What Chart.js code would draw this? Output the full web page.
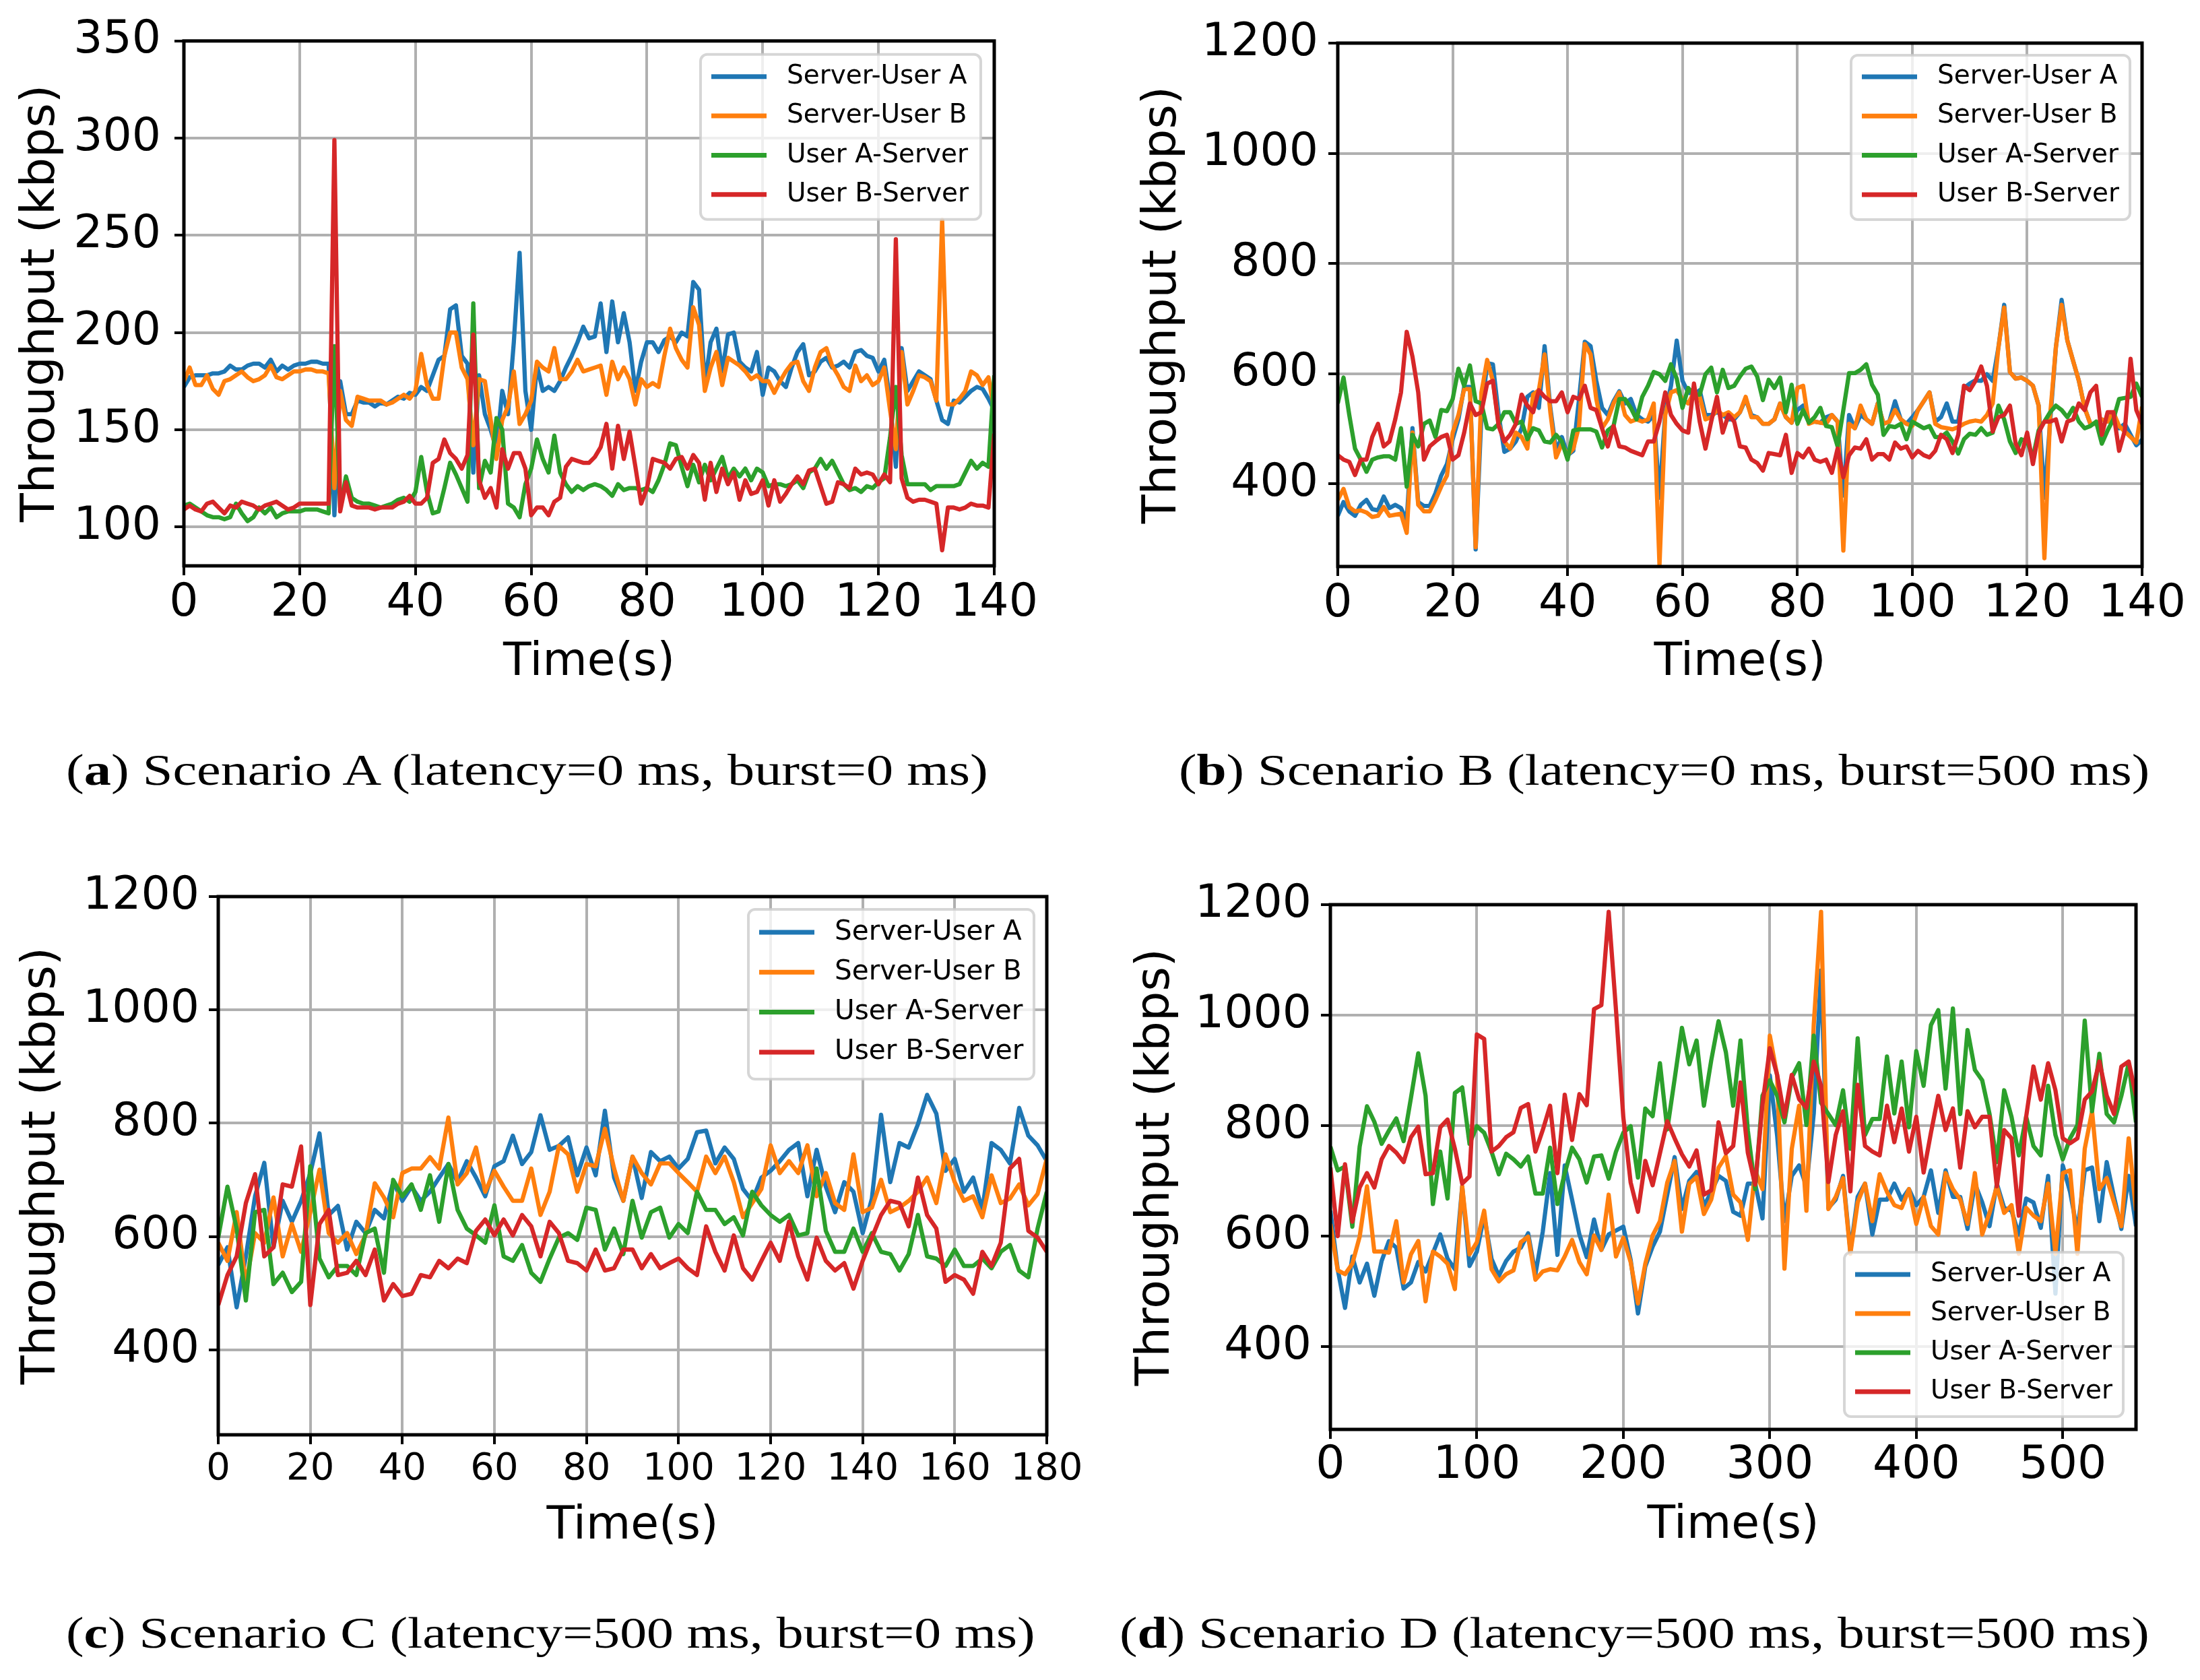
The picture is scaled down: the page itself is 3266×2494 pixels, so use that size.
<!DOCTYPE html>
<html>
<head>
<meta charset="utf-8">
<script src="https://cdn.jsdelivr.net/npm/chart.js@4.4.1/dist/chart.umd.min.js"></script>
<style>
html, body { margin: 0; padding: 0; background: #fff; }
body { width: 3266px; height: 2494px; position: relative; overflow: hidden; }
canvas { position: absolute; }
.cap { position: absolute; white-space: nowrap; font-family: "Liberation Serif", serif; font-size: 66px; line-height: 66px; color: #000; transform-origin: 0 0; }
</style>
</head>
<body>
<canvas id="chartA" width="1633" height="1075" style="left:0px;top:0px;width:1633px;height:1075px"></canvas>
<canvas id="chartB" width="1633" height="1075" style="left:1633px;top:0px;width:1633px;height:1075px"></canvas>
<canvas id="chartC" width="1633" height="1130" style="left:0px;top:1250px;width:1633px;height:1130px"></canvas>
<canvas id="chartD" width="1633" height="1130" style="left:1633px;top:1250px;width:1633px;height:1130px"></canvas>
<div class="cap" data-x="98" data-w="1369" style="top:1110px">(<b>a</b>) Scenario A (latency=0 ms, burst=0 ms)</div>
<div class="cap" data-x="1750" data-w="1441" style="top:1110px">(<b>b</b>) Scenario B (latency=0 ms, burst=500 ms)</div>
<div class="cap" data-x="98" data-w="1439" style="top:2391px">(<b>c</b>) Scenario C (latency=500 ms, burst=0 ms)</div>
<div class="cap" data-x="1662" data-w="1529" style="top:2391px">(<b>d</b>) Scenario D (latency=500 ms, burst=500 ms)</div>
<script>
"use strict";

var seriesNames = ['Server-User A', 'Server-User B', 'User A-Server', 'User B-Server'];
var seriesColors = ['#1f77b4', '#ff7f0e', '#2ca02c', '#d62728'];

// Scenario A: one sample per second, 0..140 s
var stepA = 1;
var aServerUserA = [172,177,178,178,178,179,179,180,183,181, 181,183,184,184,182,186,180,183,181,183,
    184,184,185,185,184,184,106,175,158,158, 165,164,164,162,164,163,165,167,166,169,
    168,172,170,178,186,188,212,214,188,184, 128,178,158,150,140,170,158,195,241,170,
    150,183,170,172,170,175,182,188,195,203, 197,198,215,190,216,195,210,195,170,185,
    195,195,190,196,198,195,200,198,226,222, 173,195,202,180,199,200,185,182,180,190,
    168,182,180,175,172,182,190,194,178,180, 185,187,182,183,185,182,190,191,188,187,
    180,186,165,131,192,170,175,180,178,176, 165,155,153,165,164,167,170,172,171,166, 160];
var aServerUserB = [175,182,173,173,178,171,168,175,176,178, 180,177,175,176,178,183,177,176,178,180,
    180,181,181,180,180,179,120,170,155,152, 167,166,165,165,165,163,164,166,168,166,
    170,189,173,166,166,188,200,200,182,176, 142,176,175,155,135,155,162,180,153,158,
    165,185,182,180,192,176,176,180,186,180, 181,182,183,168,185,176,182,176,163,176,
    172,174,172,188,202,192,186,182,213,204, 170,182,190,173,187,185,183,180,176,178,
    175,175,169,175,180,184,185,175,170,182, 190,192,183,178,172,170,183,175,178,173,
    175,182,160,140,190,163,170,178,177,175, 165,258,163,163,166,170,180,178,173,177, 160];
var aUserAServer = [111,112,110,108,106,105,105,104,105,112, 107,103,105,110,107,110,105,107,108,108,
    108,109,109,109,108,107,193,110,126,115, 113,112,112,111,110,111,112,114,115,113,
    118,136,118,107,108,120,133,127,120,113, 215,120,134,128,156,150,112,110,105,122,
    130,145,135,128,147,128,122,118,121,119, 121,122,121,119,116,122,119,120,120,119,
    120,118,124,132,143,142,131,121,132,123, 132,124,130,136,125,130,126,130,124,130,
    128,121,122,122,121,122,124,120,128,130, 135,130,134,128,122,119,120,118,121,120,
    123,125,146,172,137,122,122,122,122,119, 121,121,121,121,122,128,134,130,133,131, 178];
var aUserBServer = [109,111,109,108,112,113,110,107,111,110, 113,112,111,109,111,112,113,111,109,110,
    112,112,112,112,112,112,299,108,123,111, 110,110,110,109,110,110,110,112,113,116,
    112,112,115,133,135,145,138,135,130,137, 199,124,115,120,110,140,130,138,138,130,
    106,110,110,106,113,115,131,135,134,133, 133,136,141,153,130,152,135,149,131,112,
    120,135,134,133,130,135,136,130,137,133, 114,133,118,130,122,128,114,124,117,118,
    124,111,124,113,117,122,126,122,129,130, 121,112,113,123,122,120,130,127,128,127,
    122,127,123,248,125,115,113,114,114,113, 112,88,110,110,109,110,112,111,111,110, 148];
var xTicksA = [0, 20, 40, 60, 80, 100, 120, 140];
var yTicksA = [100, 150, 200, 250, 300, 350];

// Scenario B: one sample per second, 0..140 s
var stepB = 1;
var bServerUserA = [342,367,350,342,362,371,354,352,377,356, 362,356,334,501,367,360,360,383,415,436,
    481,517,576,576,281,525,619,617,525,458, 464,477,501,558,566,538,650,538,460,485,
    452,460,554,658,650,587,538,525,550,568, 546,554,525,517,513,525,375,530,578,660,
    587,566,562,570,525,525,530,525,517,517, 530,554,525,521,509,509,517,546,521,511,
    534,542,513,513,511,521,525,513,379,525, 501,525,517,509,546,509,513,550,517,509,
    521,534,550,566,513,521,546,513,513,574, 582,588,587,599,587,648,725,603,591,593,
    587,578,542,375,513,648,734,660,623,587, 538,509,509,517,513,530,501,509,489,470, 480];
var bServerUserB = [371,391,358,350,352,348,340,342,358,342, 344,346,311,493,362,350,350,371,395,415,
    493,525,572,572,285,566,625,587,509,477, 464,493,485,464,562,570,635,530,448,473,
    452,464,505,654,635,554,501,517,546,566, 525,513,517,513,517,546,252,525,566,570,
    554,546,566,558,517,521,534,525,530,521, 530,558,521,521,509,509,517,546,521,511,
    574,578,509,513,511,509,525,513,279,509, 501,542,517,509,546,509,513,534,517,509,
    505,534,550,566,509,503,501,499,503,509, 513,515,513,525,546,648,720,603,591,593,
    587,578,542,265,525,648,725,660,623,587, 538,509,509,517,513,530,505,495,485,475, 540];
var bUserAServer = [546,593,525,464,444,422,444,448,450,450, 444,501,395,489,468,509,515,485,534,532,
    554,609,578,615,550,546,501,499,509,530, 530,509,513,481,501,497,477,475,489,477,
    444,497,499,499,499,495,466,497,505,554, 554,538,517,558,578,603,599,587,617,591,
    538,574,562,562,599,611,566,607,574,578, 595,609,613,595,552,589,574,593,530,580,
    509,534,511,521,538,505,503,468,534,601, 601,607,617,580,562,489,505,503,509,481,
    513,507,501,505,485,485,493,477,455,481, 491,489,501,489,493,542,517,477,456,481,
    477,448,497,513,530,542,534,521,538,513, 501,505,513,473,497,517,554,556,558,582, 558];
var bUserBServer = [452,444,440,416,444,444,485,509,468,477, 517,566,676,631,566,444,468,477,485,489,
    444,452,493,546,525,530,582,587,505,477, 489,509,562,542,530,570,558,550,550,566,
    530,558,554,578,538,534,501,468,505,468, 466,460,456,452,477,477,513,566,525,509,
    497,493,582,513,464,513,558,493,525,513, 468,466,444,438,424,456,454,452,489,420,
    456,448,464,444,440,444,420,464,412,452, 466,464,481,444,454,454,444,475,464,468,
    448,460,452,448,460,489,481,456,489,578, 570,587,613,578,495,521,525,542,473,452,
    493,436,493,513,513,517,477,513,517,546, 534,566,578,489,530,530,460,497,627,534, 509];
var xTicksB = [0, 20, 40, 60, 80, 100, 120, 140];
var yTicksB = [400, 600, 800, 1000, 1200];

// Scenario C: read every 2 s, 0..180 s
var stepC = 2;
var cServerUserA = [550,581,475,565,671,730,581,663,626,663, 712,782,638,654,577,626,606,647,632,696,
    663,688,663,679,704,728,696,733,704,671, 724,733,778,728,749,814,753,760,775,708,
    757,708,822,704,663, 741,668,749,733,741,720,737,784,787,729,
    757,737,684,663,704,716,733,753,765,671, 753,688,643,696,679,606,667,815,696,765,
    757,798,850,817,716,737,679,704,647,765, 753,729,827,778,761,733];
var cServerUserB = [589,557,643,516,606,589,669,565,622,573, 643,718,606,589,606,569,602,694,669,634,
    712,720,720,740,720,810,692,712,757,679, 716,688,663,663,720,638,679,760,745,679,
    728,724,790,720,663, 741,712,692,729,729,712,696,679,741,712,
    741,696,634,659,684,761,712,733,712,761, 671,712,659,647,745,643,651,700,643,651,
    663,679,704,659,745,696,663,671,634,708, 659,667,692,655,675,737];
var cUserAServer = [598,688,614,487,643,647,516,536,502,520, 724,561,528,548,548,532,606,614,536,700,
    671,692,647,708,626,728,647,614,602,589, 655,565,557,585,536,520,561,598,606,594,
    651,647,577,614,569, 663,598,643,651,598,622,606,679,647,647,
    622,634,602,679,655,638,626,638,602,606, 720,610,573,573,614,573,606,573,569,540,
    569,638,565,561,548,577,548,548,561,544, 573,585,540,528,614,679];
var cUserBServer = [479,532,565,659,710,565,581,692,688,759, 479,622,647,532,536,557,532,577,487,516,
    495,499,532,528,557,544,561,553,610,630, 602,630,602,638,618,565,626,606,557,553,
    540,577,540,544,577, 577,544,569,544,553,561,544,532,618,573,
    540,602,544,524,557,589,557,626,565,524, 598,557,540,553,508,557,598,638,663,659,
    618,704,638,614,520,532,524,499,573,548, 589,720,737,610,598,573];
var xTicksC = [0, 20, 40, 60, 80, 100, 120, 140, 160, 180];
var yTicksC = [400, 600, 800, 1000, 1200];

// Scenario D: one sample every 5 s, 0..550 s
var stepD = 5;
var dServerUserA = [646,540,470,563,516,550,492,555,591,579, 505,516,553,536,569,603,559,540,690,546,
    572,637,559,528,555,572,579,605,531,608, 714,566,728,666,603,562,630,575,603,610,
    617,557,460,545,581,608,675,743,649,700, 716,654,680,709,700,644,637,695,695,632,
    891,782,627,709,728,690,822,1081,651,666, 709,573,671,695,603,666,666,695,666,685,
    656,671,719,642,719,671,671,613,695,661, 618,695,651,646,603,668,661,615,709,496,
    728,680,608,719,724,627,734,671,613,709, 618];
var dServerUserB = [622,538,531,550,599,690,572,572,570,627, 516,567,591,482,572,563,550,504,690,567,
    589,646,540,518,531,538,589,599,521,536, 540,538,563,593,553,531,601,575,675,563,
    597,553,478,550,601,627,697,736,608,695, 707,640,666,724,745,675,661,593,719,685,
    963,891,541,758,836,646,983,1187,649,671, 705,568,661,695,627,712,680,656,651,685,
    622,671,618,603,714,685,666,622,714,603, 642,690,642,656,568,651,637,627,695,568,
    714,719,568,758,826,685,705,661,618,777, 646];
var dUserAServer = [762,719,726,617,762,835,807,767,791,813, 772,850,931,854,658,753,668,859,869,767,
    799,787,753,712,749,739,726,744,677,677, 760,658,714,760,739,697,744,746,704,753,
    787,799,706,831,817,913,793,884,977,911, 954,836,918,989,933,836,954,791,685,854,
    882,854,806,887,913,801,963,841,821,801, 864,758,958,783,812,812,925,822,916,797,
    935,872,982,1009,867,1012,821,973,901,882, 821,734,864,816,746,816,763,746,872,783,
    739,777,801,990,826,930,821,806,854,913, 806];
var dUserBServer = [724,600,730,626,688,714,688,739,763,751, 734,779,798,712,714,797,811,758,695,708,
    965,957,753,763,779,788,832,839,753,792, 836,714,856,774,857,837,1011,1018,1187,1009,
    815,697,644,736,692,750,808,777,748,726, 755,675,683,806,750,763,878,751,693,838,
    940,892,816,892,848,832,916,872,698,783, 826,681,874,763,753,746,836,770,831,753,
    816,715,787,854,792,831,724,826,797,816, 816,690,792,777,637,816,907,847,913,864,
    777,768,777,847,862,916,854,821,907,916, 854];
var xTicksD = [0, 100, 200, 300, 400, 500];
var yTicksD = [400, 600, 800, 1000, 1200];

// black frame round the plot area, like matplotlib spines
var framePlugin = {
    id: 'frame',
    afterDatasetsDraw: function(chart) {
        var a = chart.chartArea;
        var ctx = chart.ctx;
        ctx.save();
        ctx.strokeStyle = '#000';
        ctx.lineWidth = 5;
        ctx.strokeRect(a.left, a.top, a.right - a.left, a.bottom - a.top);
        ctx.restore();
    }
};

// legend in a framed box inside the plot area
var boxLegendPlugin = {
    id: 'boxLegend',
    afterDraw: function(chart, args, opts) {
        var a = chart.chartArea;
        var ctx = chart.ctx;
        var x = a.right - opts.inset - opts.width;
        var y = opts.corner === 'bottom' ? a.bottom - opts.inset - opts.height : a.top + opts.inset;
        ctx.save();
        ctx.beginPath();
        ctx.roundRect(x, y, opts.width, opts.height, 10);
        ctx.fillStyle = 'rgba(255,255,255,0.8)';
        ctx.fill();
        ctx.strokeStyle = 'rgba(204,204,204,0.8)';
        ctx.lineWidth = 4;
        ctx.stroke();
        ctx.font = opts.font + 'px "DejaVu Sans"';
        ctx.textBaseline = 'middle';
        ctx.textAlign = 'left';
        chart.data.datasets.forEach(function(ds, i) {
            var cy = y + opts.first + i * opts.gap;
            ctx.strokeStyle = ds.borderColor;
            ctx.lineWidth = 7;
            ctx.beginPath();
            ctx.moveTo(x + 16, cy);
            ctx.lineTo(x + 98, cy);
            ctx.stroke();
            ctx.fillStyle = '#000';
            ctx.fillText(ds.label, x + 128, cy);
        });
        ctx.restore();
    }
};

function toPoints(values, step) {
    return values.map(function(v, i) {
        return {x: i * step, y: v};
    });
}

var charts = [];
function createChart(element, options) {
    var chart = new Chart(element, options);
    charts.push(chart);
    return chart;
}

function panelConfig(p) {
    var datasets = p.series.map(function(values, i) {
        return {
            label: seriesNames[i],
            data: toPoints(values, p.step),
            borderColor: seriesColors[i],
            backgroundColor: seriesColors[i],
            borderWidth: 6.3,
            borderJoinStyle: 'round',
            pointRadius: 0,
            tension: 0,
            fill: false,
            order: 4 - i
        };
    });
    return {
        type: 'line',
        data: {datasets: datasets},
        options: {
            responsive: false,
            animation: false,
            devicePixelRatio: 1,
            layout: {padding: {left: 0, top: p.plotTop, right: p.padRight, bottom: 0}},
            plugins: {
                legend: {display: false},
                tooltip: {enabled: false},
                boxLegend: p.legend
            },
            scales: {
                x: {
                    type: 'linear',
                    min: 0,
                    max: p.xMax,
                    afterBuildTicks: function(s) {
                        s.ticks = p.xTicks.map(function(v) { return {value: v}; });
                    },
                    afterFit: function(s) { s.height = p.axisH; },
                    ticks: {
                        font: {family: 'DejaVu Sans', size: p.xTickSize},
                        color: '#000',
                        padding: p.xTickPad,
                        maxRotation: 0,
                        autoSkip: false,
                        callback: function(v) { return String(v); }
                    },
                    grid: {color: '#b0b0b0', lineWidth: 4, tickColor: '#000', tickLength: 14, tickWidth: 4},
                    border: {display: false},
                    title: {
                        display: true,
                        text: 'Time(s)',
                        color: '#000',
                        font: {family: 'DejaVu Sans', size: 68},
                        padding: {top: 0, bottom: p.xTitlePad}
                    }
                },
                y: {
                    type: 'linear',
                    min: p.yMin,
                    max: p.yMax,
                    afterBuildTicks: function(s) {
                        s.ticks = p.yTicks.map(function(v) { return {value: v}; });
                    },
                    afterFit: function(s) { s.width = p.axisW; },
                    ticks: {
                        font: {family: 'DejaVu Sans', size: 68},
                        color: '#000',
                        padding: p.yTickPad,
                        callback: function(v) { return String(v); }
                    },
                    grid: {color: '#b0b0b0', lineWidth: 4, tickColor: '#000', tickLength: 14, tickWidth: 4},
                    border: {display: false},
                    title: {
                        display: true,
                        text: 'Throughput (kbps)',
                        color: '#000',
                        font: {family: 'DejaVu Sans', size: 70},
                        padding: {top: p.yTitlePad, bottom: 0}
                    }
                }
            }
        },
        plugins: [framePlugin, boxLegendPlugin]
    };
}

var panels = [
    {id: 'chartA', step: stepA, series: [aServerUserA, aServerUserB, aUserAServer, aUserBServer],
        xMax: 140, yMin: 80, yMax: 350, xTicks: xTicksA, yTicks: yTicksA,
        plotTop: 54, padRight: 157, axisW: 273, axisH: 235, xTickSize: 68, xTickPad: 2,
        yTickPad: 20, yTitlePad: 20, xTitlePad: 50,
        legend: {corner: 'top', inset: 20, width: 416, height: 245, first: 33, gap: 58.3, font: 39}},
    {id: 'chartB', step: stepB, series: [bServerUserA, bServerUserB, bUserAServer, bUserBServer],
        xMax: 140, yMin: 250, yMax: 1200, xTicks: xTicksB, yTicks: yTicksB,
        plotTop: 64, padRight: 86, axisW: 353, axisH: 234, xTickSize: 68, xTickPad: 2,
        yTickPad: 15, yTitlePad: 52, xTitlePad: 50,
        legend: {corner: 'top', inset: 18, width: 414, height: 244, first: 32, gap: 58.3, font: 39}},
    {id: 'chartC', step: stepC, series: [cServerUserA, cServerUserB, cUserAServer, cUserBServer],
        xMax: 180, yMin: 250, yMax: 1200, xTicks: xTicksC, yTicks: yTicksC,
        plotTop: 81, padRight: 79, axisW: 324, axisH: 250, xTickSize: 56, xTickPad: 4,
        yTickPad: 14, yTitlePad: 21, xTitlePad: 73,
        legend: {corner: 'top', inset: 19, width: 424, height: 252, first: 34, gap: 59.3, font: 40.5}},
    {id: 'chartD', step: stepD, series: [dServerUserA, dServerUserB, dUserAServer, dUserBServer],
        xMax: 550, yMin: 250, yMax: 1200, xTicks: xTicksD, yTicks: yTicksD,
        plotTop: 93, padRight: 95, axisW: 342, axisH: 258, xTickSize: 68, xTickPad: 0,
        yTickPad: 14, yTitlePad: 42, xTitlePad: 74,
        legend: {corner: 'bottom', inset: 19, width: 414, height: 244, first: 33, gap: 58, font: 39}}
];

panels.forEach(function(p) {
    createChart(document.getElementById(p.id), panelConfig(p));
});

// stretch each caption to the width it has in the figure
document.querySelectorAll('.cap').forEach(function(el) {
    el.style.left = el.getAttribute('data-x') + 'px';
    var s = Number(el.getAttribute('data-w')) / el.offsetWidth;
    el.style.transform = 'scaleX(' + s + ')';
});
</script>
</body>
</html>
